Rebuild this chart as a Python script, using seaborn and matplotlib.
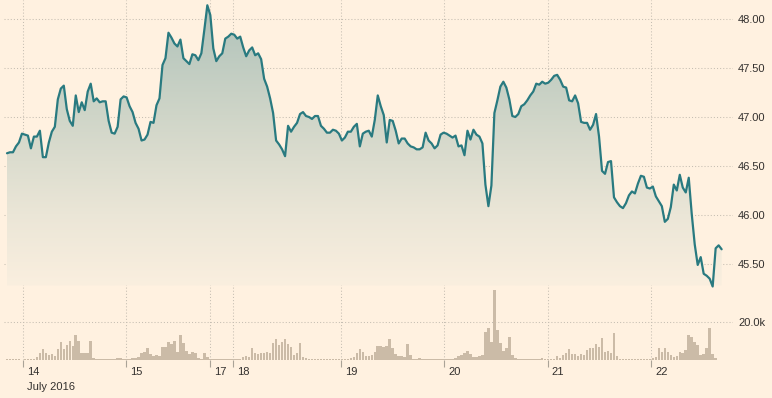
import numpy as np
import pandas as pd
import seaborn as sns
import matplotlib
matplotlib.use("Agg")
import matplotlib.pyplot as plt
import matplotlib.transforms as mtransforms
from matplotlib.colors import LinearSegmentedColormap

# ---------------- data ----------------
price = [
    46.63, 46.64, 46.64, 46.70, 46.74, 46.83, 46.82, 46.81, 46.68, 46.80,
    46.80, 46.86, 46.59, 46.59, 46.74, 46.85, 46.90, 47.18, 47.29, 47.32,
    47.08, 46.96, 46.91, 47.22, 47.05, 47.15, 47.07, 47.26, 47.34, 47.16,
    47.19, 47.15, 47.16, 47.16, 46.96, 46.84, 46.83, 46.90, 47.18, 47.21,
    47.20, 47.11, 47.05, 46.94, 46.88, 46.76, 46.77, 46.82, 46.95, 46.94,
    47.12, 47.19, 47.53, 47.60, 47.86, 47.81, 47.75, 47.72, 47.79, 47.60,
    47.57, 47.54, 47.64, 47.63, 47.58, 47.65, 47.89, 48.14, 48.04, 47.70,
    47.57, 47.62, 47.65, 47.80, 47.82, 47.85, 47.84, 47.80, 47.82, 47.71,
    47.62, 47.68, 47.71, 47.63, 47.65, 47.59, 47.39, 47.31, 47.19, 47.04,
    46.76, 46.72, 46.67, 46.60, 46.91, 46.85, 46.90, 46.94, 47.03, 47.05,
    47.01, 47.00, 46.98, 47.01, 47.01, 46.91, 46.88, 46.84, 46.84, 46.87,
    46.86, 46.83, 46.76, 46.79, 46.85, 46.85, 46.90, 46.93, 46.70, 46.83,
    46.85, 46.86, 46.80, 46.97, 47.22, 47.11, 47.02, 46.74, 46.97, 46.96,
    46.86, 46.73, 46.78, 46.78, 46.73, 46.70, 46.69, 46.67, 46.67, 46.69,
    46.84, 46.76, 46.73, 46.68, 46.71, 46.82, 46.84, 46.83, 46.81, 46.79,
    46.81, 46.70, 46.71, 46.61, 46.86, 46.77, 46.87, 46.82, 46.80, 46.73,
    46.31, 46.09, 46.30, 47.04, 47.17, 47.31, 47.36, 47.30, 47.18, 47.01,
    47.00, 47.03, 47.11, 47.13, 47.17, 47.22, 47.26, 47.34, 47.33, 47.36,
    47.34, 47.35, 47.38, 47.42, 47.43, 47.38, 47.31, 47.30, 47.17, 47.16,
    47.22, 47.14, 46.95, 46.94, 46.94, 46.87, 46.92, 47.03, 46.80, 46.45,
    46.42, 46.54, 46.55, 46.18, 46.13, 46.09, 46.07, 46.12, 46.20, 46.24,
    46.22, 46.32, 46.40, 46.39, 46.28, 46.27, 46.29, 46.19, 46.14, 46.09,
    45.93, 45.96, 46.08, 46.31, 46.25, 46.41, 46.28, 46.23, 46.38, 46.01,
    45.70, 45.49, 45.57, 45.40, 45.38, 45.35, 45.27, 45.66, 45.69, 45.65,
]

volume_k = [
    0.35, 0.35, 0.35, 0.35, 0.35, 0.17, 0.35, 0.35, 0.35, 0.70,
    1.39, 3.83, 5.74, 3.48, 2.61, 3.13, 2.09, 5.57, 9.57, 5.57,
    7.83, 9.92, 7.31, 13.05, 10.09, 3.48, 3.48, 3.48, 9.92, 0.87,
    0.70, 0.52, 0.35, 0.35, 0.52, 0.70, 0.35, 0.87, 1.04, 0.52,
    0.35, 0.52, 1.04, 0.87, 1.74, 3.48, 4.35, 6.09, 3.13, 2.09,
    2.44, 2.09, 6.96, 6.61, 9.57, 8.35, 10.09, 4.35, 13.05, 9.05,
    4.87, 3.13, 4.35, 3.83, 1.04, 0.52, 3.48, 1.39, 0.35, 0.35,
    0.35, 0.35, 0.52, 0.70, 0.70, 0.35, 0.52, 0.70, 0.52, 1.39,
    2.09, 1.74, 6.09, 3.83, 3.13, 3.48, 3.48, 4.35, 3.83, 8.70,
    10.79, 7.83, 9.57, 10.79, 8.35, 6.61, 2.61, 3.48, 8.70, 1.39,
    0.87, 0.52, 0.35, 0.35, 0.35, 0.35, 0.35, 0.35, 0.35, 0.35,
    0.35, 0.35, 0.35, 0.52, 0.52, 0.87, 1.39, 3.48, 5.74, 4.35,
    2.09, 2.09, 2.61, 4.35, 7.31, 7.31, 6.96, 7.31, 10.79, 6.09,
    3.13, 2.09, 2.09, 1.74, 8.35, 2.61, 0.70, 0.35, 1.04, 0.35,
    0.35, 0.35, 0.35, 0.35, 0.35, 0.35, 0.35, 0.35, 0.35, 0.52,
    1.04, 2.09, 2.61, 3.83, 4.87, 3.13, 1.74, 1.39, 2.09, 2.61,
    14.79, 16.53, 9.57, 36.54, 15.66, 8.70, 4.87, 6.09, 12.18, 2.61,
    1.04, 0.35, 0.35, 0.35, 0.35, 0.35, 0.35, 0.35, 0.35, 0.87,
    0.35, 0.35, 0.35, 0.35, 2.09, 1.04, 2.61, 3.48, 5.57, 3.13,
    3.13, 2.09, 3.13, 2.61, 5.22, 6.09, 6.09, 8.35, 6.61, 11.31,
    4.35, 4.87, 3.48, 13.92, 2.09, 0.70, 0.35, 0.35, 0.35, 0.70,
    0.70, 0.35, 0.35, 0.35, 0.35, 0.52, 1.04, 1.74, 6.09, 4.35,
    6.09, 4.35, 2.61, 1.74, 2.09, 4.35, 3.48, 5.22, 13.05, 12.18,
    9.57, 7.83, 2.61, 3.13, 6.09, 16.53, 3.13, 0.87, 0.00, 0.00,
]

# day boundaries, expressed in sample-index units
day_tick_pos = [5.35, 39.8, 67.9, 75.6, 111.7, 146.2, 180.9, 215.4]
day_labels = ["14", "15", "17", "18", "19", "20", "21", "22"]
month_label = "July 2016"

price_ticks = [45.5, 46.0, 46.5, 47.0, 47.5, 48.0]
volume_ticks = [20.0]
volume_tick_labels = ["20.0k"]

# ---------------- style ----------------
BG = "#fff1e0"
LINE = "#297a80"
VOLC = "#cbbba7"
GRID = "#c6beb2"
TEXT = "#33302e"
TICKC = "#aaa397"

sns.set_style("white")
plt.rcParams["font.family"] = ["Liberation Sans", "DejaVu Sans"]
plt.rcParams["font.size"] = 8

W, H = 772, 398
fig = plt.figure(figsize=(W / 100, H / 100), dpi=100, facecolor=BG)
rect = [4 / W, (H - 360) / H, 729 / W, 360 / H]
axv = fig.add_axes(rect)
ax = fig.add_axes(rect)
for a in (axv, ax):
    a.set_facecolor("none")
    for s in a.spines.values():
        s.set_visible(False)

df = pd.DataFrame({"i": np.arange(len(price)), "price": price, "vol": volume_k})
xlim = (-1.0, 242.8)

# ---- volume panel ----
sns.barplot(data=df, x="i", y="vol", native_scale=True, orient="x",
            color=VOLC, saturation=1, width=0.85, errorbar=None,
            linewidth=0, ax=axv)
axv.set_xlim(*xlim)
axv.set_ylim(0, 188)
axv.set_xlabel("")
axv.set_ylabel("")
axv.tick_params(axis="x", length=0, labelbottom=False, bottom=False)
axv.yaxis.tick_right()
axv.set_yticks(volume_ticks)
axv.set_yticklabels(volume_tick_labels)
axv.tick_params(axis="y", length=0, pad=3.6, labelsize=8, labelcolor=TEXT)
axv.grid(False)
axv.yaxis.grid(True, color=GRID, linestyle=(0, (1, 2)), linewidth=0.75)
axv.set_axisbelow(True)

# ---- price panel ----
floor = 45.28
top = 48.19
poly = ax.fill_between(df["i"], df["price"], floor, facecolor="none",
                       edgecolor="none", linewidth=0)
cmap = LinearSegmentedColormap.from_list(
    "fade", [(0.0, "#faefdf"), (0.25, "#ebe6d7"), (0.6, "#cfd5c8"), (1.0, "#adc1b9")])
grad = np.linspace(0, 1, 256).reshape(-1, 1)
im = ax.imshow(grad, extent=[df["i"].iloc[0], df["i"].iloc[-1], floor, top],
               origin="lower", aspect="auto", cmap=cmap, zorder=1,
               interpolation="bilinear")
im.set_clip_path(poly.get_paths()[0], transform=ax.transData)

sns.lineplot(data=df, x="i", y="price", ax=ax, color=LINE, linewidth=1.6,
             zorder=3)
ax.set_xlim(*xlim)
ax.set_ylim(44.52, 48.194)
ax.set_xlabel("")
ax.set_ylabel("")
ax.yaxis.tick_right()
ax.set_yticks(price_ticks)
ax.set_yticklabels([f"{v:.2f}" for v in price_ticks])
ax.tick_params(axis="y", length=0, pad=3.6, labelsize=8, labelcolor=TEXT)
ax.set_xticks(day_tick_pos)
ax.set_xticklabels([])
ax.tick_params(axis="x", direction="out", length=5, width=0.8, color=TICKC,
               bottom=True)
ax.grid(True, color=GRID, linestyle=(0, (1, 2)), linewidth=0.75)
ax.set_axisbelow(True)

blend = mtransforms.blended_transform_factory(ax.transData, ax.transAxes)
lab_tr = mtransforms.offset_copy(blend, fig=fig, x=4, y=-12, units="dots")
for pos, lab in zip(day_tick_pos, day_labels):
    ax.text(pos, 0, lab, transform=lab_tr, ha="left", va="center",
            fontsize=8, color=TEXT)
month_tr = mtransforms.offset_copy(blend, fig=fig, x=4, y=-27, units="dots")
ax.text(day_tick_pos[0], 0, month_label, transform=month_tr, ha="left",
        va="center", fontsize=8, color=TEXT)

fig.savefig("out.png", dpi=100, facecolor=BG)
